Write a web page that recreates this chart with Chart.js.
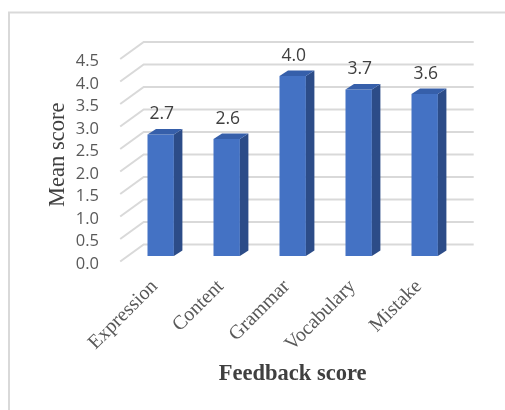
<!DOCTYPE html>
<html>
<head>
<meta charset="utf-8">
<script src="https://cdn.jsdelivr.net/npm/chart.js@4.4.1/dist/chart.umd.min.js"></script>
<style>
  html, body { margin: 0; padding: 0; background: #ffffff; }
  #wrap { width: 505px; height: 410px; position: relative; }
</style>
</head>
<body>
<div id="wrap"><canvas id="chart" width="505" height="410"></canvas></div>
<script>
// Feedback categories and their mean scores
const categories = ['Expression', 'Content', 'Grammar', 'Vocabulary', 'Mistake'];
const meanScores = [2.7, 2.6, 4.0, 3.7, 3.6];
const yTickValues = [0, 0.5, 1.0, 1.5, 2.0, 2.5, 3.0, 3.5, 4.0, 4.5];

// Pseudo-3D geometry: offsets of the back wall, front edge and bar depth
const BACK = { dx: 16, dy: -11.5 };
const FRONT = { dx: -7.5, dy: 5.5 };
const BAR_DEPTH = { dx: 8.5, dy: -5.5 };

const COLORS = {
  front: '#4472C4',
  top: '#365FAA',
  side: '#2C4C88',
  grid: '#d9d9d9',
  tick: '#595959',
  title: '#404040',
  frame: '#d9d9d9'
};

const frameAndWalls = {
  id: 'frameAndWalls',
  beforeDraw(chart) {
    const { ctx, width, height } = chart;
    ctx.save();
    ctx.fillStyle = '#ffffff';
    ctx.fillRect(0, 0, width, height);
    ctx.strokeStyle = COLORS.frame;
    ctx.lineWidth = 2;
    ctx.beginPath();
    ctx.moveTo(9, height + 2);
    ctx.lineTo(9, 12.5);
    ctx.lineTo(width + 2, 12.5);
    ctx.stroke();
    ctx.restore();
  },
  beforeDatasetsDraw(chart) {
    const { ctx, chartArea: a, scales: { y } } = chart;
    ctx.save();
    ctx.strokeStyle = COLORS.grid;
    ctx.lineWidth = 2;
    yTickValues.forEach(v => {
      const p = y.getPixelForValue(v);
      ctx.beginPath();
      ctx.moveTo(a.left + FRONT.dx, p + FRONT.dy);
      ctx.lineTo(a.left + BACK.dx, p + BACK.dy);
      ctx.lineTo(a.right + BACK.dx, p + BACK.dy);
      ctx.stroke();
    });
    ctx.restore();
  },
  afterDatasetsDraw(chart) {
    const { ctx } = chart;
    const meta = chart.getDatasetMeta(0);
    const values = chart.data.datasets[0].data;
    ctx.save();
    meta.data.forEach((bar, i) => {
      const { x, y, base, width } = bar.getProps(['x', 'y', 'base', 'width'], true);
      const l = x - width / 2;
      const r = x + width / 2;
      // side face
      ctx.fillStyle = COLORS.side;
      ctx.beginPath();
      ctx.moveTo(r, y);
      ctx.lineTo(r + BAR_DEPTH.dx, y + BAR_DEPTH.dy);
      ctx.lineTo(r + BAR_DEPTH.dx, base + BAR_DEPTH.dy);
      ctx.lineTo(r, base);
      ctx.closePath();
      ctx.fill();
      // top face
      ctx.fillStyle = COLORS.top;
      ctx.beginPath();
      ctx.moveTo(l, y);
      ctx.lineTo(l + BAR_DEPTH.dx, y + BAR_DEPTH.dy);
      ctx.lineTo(r + BAR_DEPTH.dx, y + BAR_DEPTH.dy);
      ctx.lineTo(r, y);
      ctx.closePath();
      ctx.fill();
      // value label
      ctx.fillStyle = COLORS.title;
      ctx.font = '17.5px "Open Sans", sans-serif';
      ctx.textAlign = 'center';
      ctx.textBaseline = 'middle';
      ctx.fillText(values[i].toFixed(1), x + 1, y - 20);
    });
    ctx.restore();
  }
};

new Chart(document.getElementById('chart'), {
  type: 'bar',
  data: {
    labels: categories,
    datasets: [{
      label: 'Mean score',
      data: meanScores,
      backgroundColor: COLORS.front,
      borderWidth: 0,
      categoryPercentage: 1.0,
      barPercentage: 0.4
    }]
  },
  options: {
    responsive: false,
    animation: false,
    devicePixelRatio: 1,
    layout: { padding: { left: 40, top: 53.5, right: 47.3, bottom: 0 } },
    plugins: { legend: { display: false }, tooltip: { enabled: false } },
    scales: {
      x: {
        grid: { display: false, drawTicks: false },
        border: { display: false },
        ticks: {
          autoSkip: false,
          minRotation: 45,
          maxRotation: 45,
          padding: 19,
          labelOffset: -6,
          color: COLORS.tick,
          font: { family: '"Liberation Serif", "Times New Roman", serif', size: 20 }
        },
        title: {
          display: true,
          text: 'Feedback score',
          color: COLORS.title,
          font: { family: '"Liberation Serif", "Times New Roman", serif', size: 22.5, weight: 'bold' },
          padding: { top: 0, bottom: 22 }
        },
        afterFit(scale) { scale.height = 154; }
      },
      y: {
        min: 0,
        max: 4.5,
        afterBuildTicks(scale) { scale.ticks = yTickValues.map(v => ({ value: v })); },
        grid: { display: false, drawTicks: false },
        border: { display: false },
        ticks: {
          autoSkip: false,
          padding: 28.7,
          labelOffset: 8,
          color: COLORS.tick,
          font: { family: '"Open Sans", sans-serif', size: 16.5 },
          callback: v => Number(v).toFixed(1)
        },
        title: {
          display: true,
          text: 'Mean score',
          color: COLORS.title,
          font: { family: '"Liberation Serif", "Times New Roman", serif', size: 22.5 },
          padding: { top: 4.5, bottom: 0 }
        },
        afterFit(scale) { scale.width = 87.7; }
      }
    }
  },
  plugins: [frameAndWalls]
});
</script>
</body>
</html>
